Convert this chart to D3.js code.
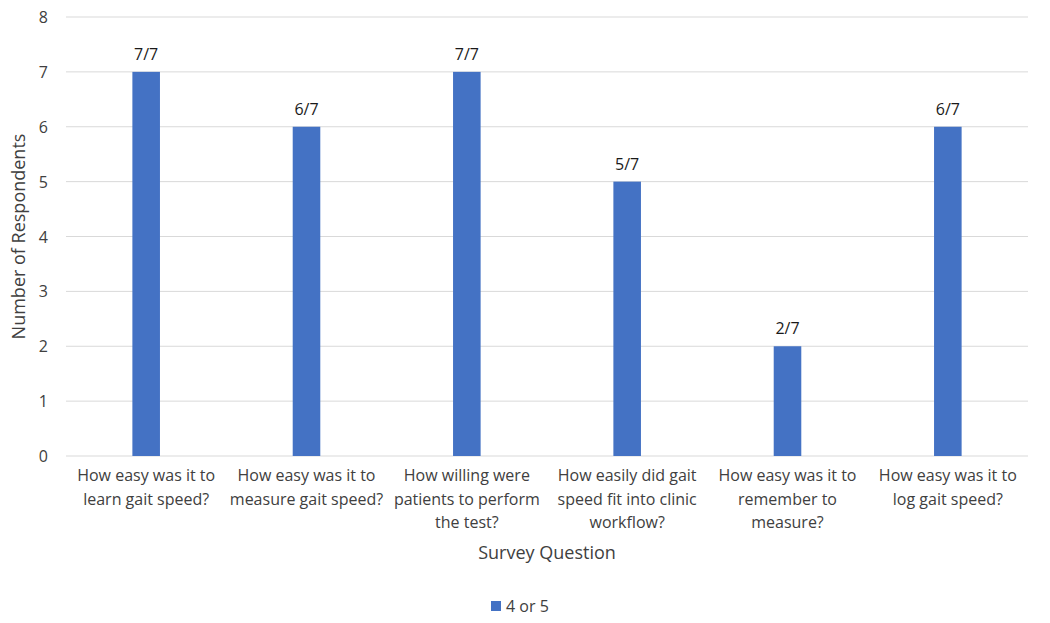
<!DOCTYPE html>
<html lang="en">
  <head>
    <meta charset="UTF-8" />
    <title>Survey responses</title>
    <script src="https://cdn.jsdelivr.net/npm/d3@7"></script>
    <style>
      body { margin: 0; background: #fff; }
      text { font-family: "Open Sans", "Liberation Sans", sans-serif; }
    </style>
  </head>
  <body>
    <svg width="1050" height="623"></svg>
    <script>
      const questions = [
        ["How easy was it to", "learn gait speed?"],
        ["How easy was it to", "measure gait speed?"],
        ["How willing were", "patients to perform", "the test?"],
        ["How easily did gait", "speed fit into clinic", "workflow?"],
        ["How easy was it to", "remember to", "measure?"],
        ["How easy was it to", "log gait speed?"],
      ];
      const counts = [7, 6, 7, 5, 2, 6];
      const labels = ["7/7", "6/7", "7/7", "5/7", "2/7", "6/7"];
      const yTicks = [0, 1, 2, 3, 4, 5, 6, 7, 8];
      const seriesName = "4 or 5";

      const svg = d3.select("svg");
      const plotL = 66, plotR = 1028, plotT = 17, plotB = 456;

      const x = d3.scaleBand().domain(d3.range(counts.length)).range([plotL, plotR]);
      const y = d3.scaleLinear().domain([0, 8]).range([plotB, plotT]);
      const barW = x.bandwidth() * 0.172;

      // gridlines
      svg.append("g")
        .selectAll("line")
        .data(yTicks)
        .join("line")
        .attr("x1", plotL)
        .attr("x2", plotR)
        .attr("y1", (d) => y(d))
        .attr("y2", (d) => y(d))
        .attr("stroke", "#d9d9d9")
        .attr("stroke-width", 1);

      svg.append("g")
        .selectAll("text")
        .data(yTicks)
        .join("text")
        .attr("x", 48)
        .attr("y", (d) => y(d) + 6)
        .attr("text-anchor", "end")
        .attr("font-size", 16)
        .attr("fill", "#404040")
        .text((d) => d);

      // bars
      svg.append("g")
        .selectAll("rect")
        .data(counts)
        .join("rect")
        .attr("x", (d, i) => x(i) + x.bandwidth() / 2 - barW / 2)
        .attr("y", (d) => y(d))
        .attr("width", barW)
        .attr("height", (d) => plotB - y(d))
        .attr("fill", "#4472c4");

      // data labels
      svg.append("g")
        .selectAll("text")
        .data(counts)
        .join("text")
        .attr("x", (d, i) => x(i) + x.bandwidth() / 2)
        .attr("y", (d) => y(d) - 12)
        .attr("text-anchor", "middle")
        .attr("font-size", 16)
        .attr("fill", "#1a1a1a")
        .text((d, i) => labels[i]);

      // category labels
      const cat = svg.append("g")
        .selectAll("text")
        .data(questions)
        .join("text")
        .attr("text-anchor", "middle")
        .attr("font-size", 16)
        .attr("fill", "#404040");
      cat.selectAll("tspan")
        .data((d, i) => d.map((s) => ({ s, i })))
        .join("tspan")
        .attr("x", (d) => x(d.i) + x.bandwidth() / 2)
        .attr("y", (d, j) => 481 + j * 23.5)
        .text((d) => d.s);

      // axis titles
      svg.append("text")
        .attr("x", (plotL + plotR) / 2)
        .attr("y", 559)
        .attr("text-anchor", "middle")
        .attr("font-size", 18)
        .attr("fill", "#404040")
        .text("Survey Question");

      svg.append("text")
        .attr("transform", "translate(25," + (plotT + plotB) / 2 + ") rotate(-90)")
        .attr("text-anchor", "middle")
        .attr("font-size", 18)
        .attr("fill", "#404040")
        .text("Number of Respondents");

      // legend
      svg.append("rect")
        .attr("x", 491)
        .attr("y", 601)
        .attr("width", 10)
        .attr("height", 10)
        .attr("fill", "#4472c4");
      svg.append("text")
        .attr("x", 506)
        .attr("y", 612)
        .attr("font-size", 16)
        .attr("fill", "#404040")
        .text(seriesName);
    </script>
  </body>
</html>
